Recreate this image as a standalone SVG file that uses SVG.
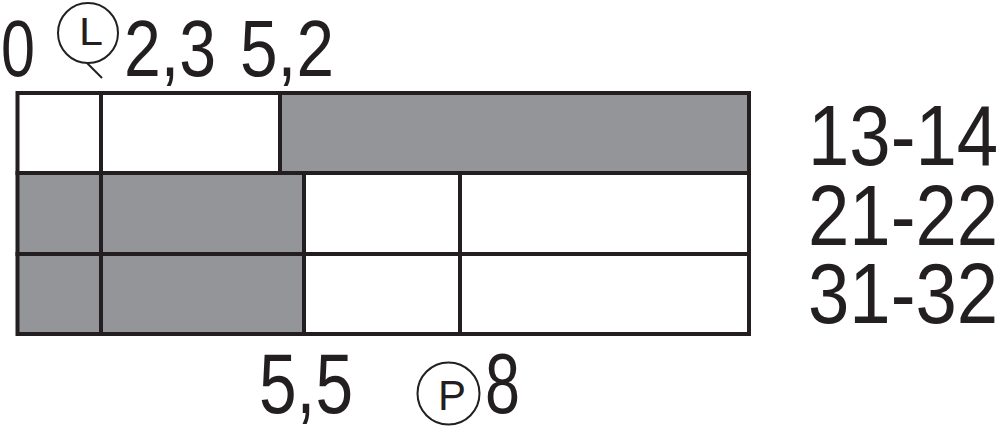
<svg xmlns="http://www.w3.org/2000/svg" width="1000" height="431" viewBox="0 0 1000 431">
<style>
.w{fill:#ffffff;stroke:#231f20;stroke-width:4}
.g{fill:#939598;stroke:#231f20;stroke-width:4}
.t{font-family:"Liberation Sans",Arial,sans-serif;fill:#231f20}
.sym{fill:none;stroke:#231f20;stroke-width:2}
</style>
<rect width="1000" height="431" fill="#ffffff"/>
<g id="row-13-14">
<rect class="w" x="17.5" y="93" width="83.5" height="80"/>
<rect class="w" x="101" y="93" width="179" height="80"/>
<rect class="g" x="280" y="93" width="469" height="80"/>
</g>
<g id="row-21-22">
<rect class="g" x="17.5" y="173" width="83.5" height="81"/>
<rect class="g" x="101" y="173" width="203" height="81"/>
<rect class="w" x="304" y="173" width="156" height="81"/>
<rect class="w" x="460" y="173" width="289" height="81"/>
</g>
<g id="row-31-32">
<rect class="g" x="17.5" y="254" width="83.5" height="80"/>
<rect class="g" x="101" y="254" width="203" height="80"/>
<rect class="w" x="304" y="254" width="156" height="80"/>
<rect class="w" x="460" y="254" width="289" height="80"/>
</g>
<g id="top-labels">
<text class="t" x="1" y="76" font-size="80" textLength="34" lengthAdjust="spacingAndGlyphs">0</text>
<text class="t" x="124" y="76" font-size="80" textLength="92" lengthAdjust="spacingAndGlyphs">2,3</text>
<text class="t" x="240" y="76" font-size="80" textLength="94" lengthAdjust="spacingAndGlyphs">5,2</text>
</g>
<g id="clock-symbol">
<circle class="sym" cx="88" cy="33" r="30"/>
<line class="sym" x1="87" y1="63" x2="102" y2="78"/>
<text class="t" x="79" y="45" font-size="38" textLength="24" lengthAdjust="spacingAndGlyphs">L</text>
</g>
<g id="bottom-labels">
<text class="t" x="259" y="413" font-size="85" textLength="94" lengthAdjust="spacingAndGlyphs">5,5</text>
<text class="t" x="485" y="413" font-size="85" textLength="35" lengthAdjust="spacingAndGlyphs">8</text>
</g>
<g id="p-symbol">
<circle class="sym" cx="448.5" cy="393.5" r="31"/>
<text class="t" x="438" y="410" font-size="42" textLength="28" lengthAdjust="spacingAndGlyphs">P</text>
</g>
<g id="right-labels" transform="translate(808,0) scale(0.865,1)">
<text class="t" x="0" y="165" font-size="86">13-14</text>
<text class="t" x="0" y="245" font-size="86">21-22</text>
<text class="t" x="0" y="323" font-size="86">31-32</text>
</g>
</svg>
